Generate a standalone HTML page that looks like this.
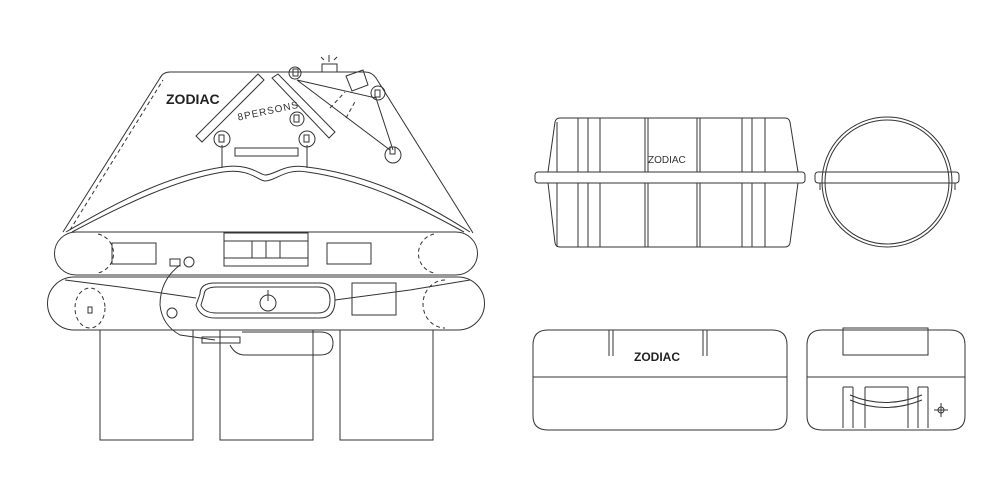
<!DOCTYPE html>
<html><head><style>html,body{margin:0;padding:0;background:#fff}svg{display:block}</style></head><body>
<svg width="989" height="492" viewBox="0 0 989 492" xmlns="http://www.w3.org/2000/svg" fill="none" stroke="#333" stroke-width="1" font-family="Liberation Sans, sans-serif">
<path d="M63,232 L160,78 Q163,72 170,72 L365,72 Q372,72 376,78 L473,233"/>
<path d="M70,230 L163,80" stroke-dasharray="4,3"/>
<path d="M66,232 C120,200 170,175 223,167 C250,163 260,175 265,175 C275,175 285,163 307,167 C370,175 420,200 470,232"/>
<path d="M72,232 C125,204 175,180 223,172 C250,168 258,181 265,181 C276,181 285,168 307,172 C365,180 415,205 464,232"/>
<text x="166" y="104" font-size="14" font-weight="bold" fill="#222" stroke="none">ZODIAC</text>
<text x="237" y="117" font-size="10" fill="#333" stroke="none" transform="rotate(-12 255 112)" letter-spacing="1">8PERSONS</text>
<path d="M196,136 L258,74 L264,80 L202,142 Z"/>
<path d="M272,78 L278,74 L335,132 L329,138 Z"/>
<rect x="235" y="148" width="63" height="8"/>
<circle cx="222" cy="139" r="8"/><rect x="219" y="135" width="5" height="7"/><path d="M222,145V168"/>
<circle cx="307" cy="139" r="8"/><rect x="304" y="135" width="5" height="7"/><path d="M307,145V168"/>
<circle cx="297" cy="119" r="7"/><rect x="294" y="115" width="5" height="7"/>
<circle cx="393" cy="155" r="8"/><rect x="390" y="147" width="5" height="7"/>
<circle cx="378" cy="93" r="7"/><rect x="375" y="90" width="5" height="7"/>
<circle cx="295" cy="73" r="6"/><rect x="293" y="69" width="5" height="7"/>
<path d="M297,80 L376,98 L393,150 M297,80 L390,150"/>
<path d="M346,76 L363,70 L368,85 L352,91 Z"/>
<path d="M330,108 L345,92 M346,118 L356,100" stroke-dasharray="4,3"/>
<rect x="322" y="64" width="15" height="8"/>
<path d="M329,62V55 M324,60l-3,-3 M334,60l3,-3"/>
<path d="M76,232 L456,232 A21,21 0 0 1 456,275 L76,275 A21,21 0 0 1 76,232 Z"/>
<path d="M98,234 A20,20 0 0 1 98,273 M434,234 A20,20 0 0 0 434,273" stroke-dasharray="4,3"/>
<rect x="112" y="243" width="44" height="21"/>
<rect x="327" y="243" width="44" height="21"/>
<rect x="224" y="233" width="84" height="33"/>
<path d="M224,241H308 M224,258H308 M252,241V258 M266,241V258 M280,241V258" />
<circle cx="189" cy="262" r="5"/><rect x="170" y="259" width="10" height="7"/>
<path d="M74,277 L458,277 A26,26 0 0 1 458,330 L74,330 A26,26 0 0 1 74,277 Z"/>
<ellipse cx="90" cy="308" rx="15" ry="20" stroke-dasharray="4,3"/>
<rect x="88" y="307" width="4" height="6"/>
<path d="M445,280 A22,24 0 0 0 445,328" stroke-dasharray="4,3"/>
<rect x="352" y="283" width="44" height="32"/>
<path d="M200,294 Q200,283 215,283 L320,283 Q335,283 335,300 Q335,318 320,318 L215,318 Q200,318 196,305 Z"/>
<path d="M204,295 Q204,287 217,287 L318,287 Q330,287 330,300 Q330,313 318,313 L217,313 Q204,313 201,305 Z"/>
<circle cx="268" cy="303" r="8"/><path d="M268,290V301"/>
<path d="M65,280 L120,287 L196,298 M470,280 L410,290 L335,300"/>
<path d="M180,265 Q160,280 160,305 Q162,325 180,335 L215,340"/>
<circle cx="172" cy="313" r="5"/>
<rect x="100" y="330" width="93" height="110"/>
<rect x="220" y="330" width="93" height="110"/>
<rect x="340" y="330" width="93" height="110"/>
<path d="M242,332 L320,332 Q333,332 333,343 Q333,355 320,355 L245,355 Q235,355 230,345" />
<rect x="202" y="337" width="38" height="6"/>
<path d="M555,122 Q556,118 560,118 L785,118 Q789,118 790,122 L798,172 M548,172 L555,122"/>
<path d="M548,183 L555,243 Q556,247 560,247 L785,247 Q789,247 790,243 L798,183"/>
<rect x="535" y="172" width="270" height="11" rx="3"/>
<path d="M557,122V172 M578,118V172 M588,118V172 M600,118V172 M645,118V172 M648,118V172 M697,118V172 M700,118V172 M742,118V172 M752,118V172 M765,118V172"/>
<path d="M557,183V247 M578,183V247 M588,183V247 M600,183V247 M645,183V247 M648,183V247 M697,183V247 M700,183V247 M742,183V247 M752,183V247 M765,183V247"/>
<text x="648" y="163" font-size="10" fill="#333" stroke="none">ZODIAC</text>
<circle cx="887" cy="182" r="65"/>
<circle cx="887" cy="182" r="62"/>
<rect x="815" y="172" width="144" height="11" rx="3"/>
<path d="M820,183V190 M955,183V190"/>
<path d="M548,330 L772,330 Q787,330 787,345 L787,416 Q787,430 772,430 L548,430 Q533,430 533,416 L533,345 Q533,330 548,330 Z"/>
<path d="M533,377H787"/>
<path d="M609,330V356 M613,330V356 M703,330V356 M707,330V356"/>
<text x="634" y="361" font-size="12" font-weight="bold" fill="#222" stroke="none">ZODIAC</text>
<path d="M807,345 Q807,330 822,330 L950,330 Q965,330 965,345 L965,416 Q965,430 950,430 L822,430 Q807,430 807,416 Z"/>
<path d="M807,377H965"/>
<rect x="843" y="328" width="85" height="27"/>
<path d="M843,387V428 M853,387V428 M865,387V428 M908,387V428 M918,387V428 M928,387V428 M843,387H853 M865,387H908 M918,387H928"/>
<path d="M850,395 Q885,410 922,395 M850,400 Q885,415 922,400"/>
<circle cx="941" cy="410" r="3"/><path d="M934,410H948 M941,403V417"/>
</svg>
</body></html>
